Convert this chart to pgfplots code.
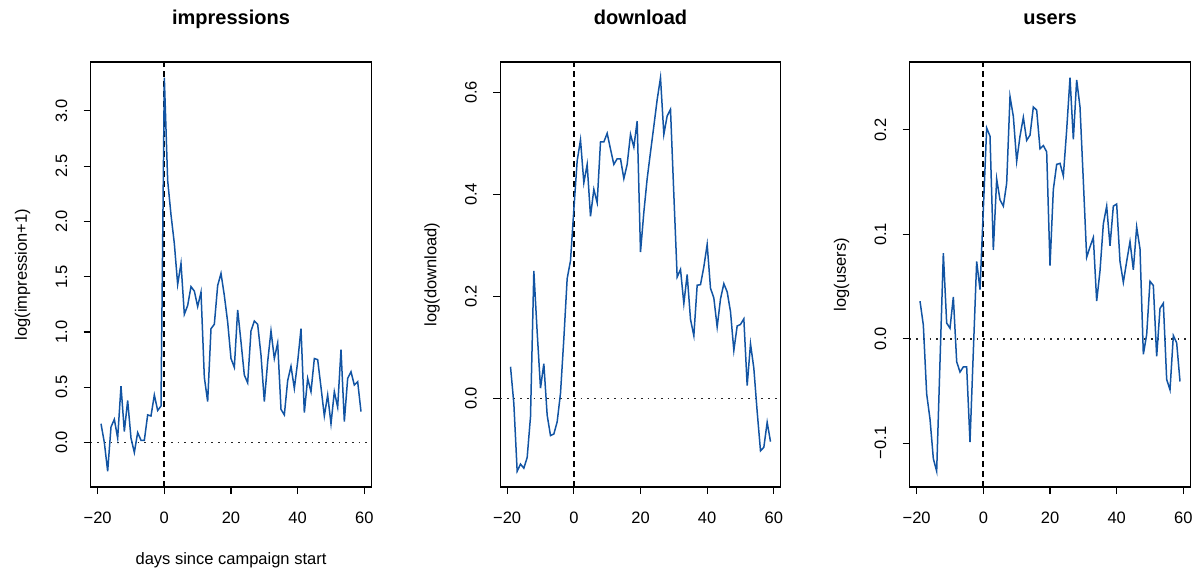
\documentclass[border=0pt]{standalone}
\usepackage{fontspec}
\setmainfont{Liberation Sans}
\usepackage{pgfplots}
\pgfplotsset{compat=1.18}
\definecolor{lineblue}{RGB}{18,84,163}
\newcommand{\tickfont}{\fontsize{16.5bp}{19bp}\selectfont}
\pgfplotsset{
  panel/.style={
    scale only axis, width=280.8bp, height=425bp, anchor=south west,
    xmin=-22.12, xmax=62.12,
    clip=true,
    axis line style={line width=1.1bp},
    tick align=outside, xtick pos=bottom, ytick pos=left,
    major tick length=7bp,
    tick style={black, line width=1.1bp},
    xtick={-20,0,20,40,60}, xticklabels={−20,0,20,40,60},
    ticklabel style={font=\tickfont, inner sep=0pt},
    xticklabel style={anchor=north},
    xticklabel shift=17.5bp,
    yticklabel style={rotate=90, anchor=south},
    yticklabel shift=16bp,
    title style={font=\fontsize{20bp}{24bp}\selectfont\bfseries, at={(axis description cs:0.5,1.0753)}, anchor=base},
    label style={font=\tickfont},
    ylabel style={at={(axis description cs:-0.2420,0.5)}, anchor=center},
    xlabel style={at={(axis description cs:0.5,-0.1718)}, anchor=center},
  },
  dataline/.style={lineblue, line width=1.5bp, mark=none},
  zeroline/.style={black!85, line width=1.7bp, dash pattern=on 1.7bp off 5bp, mark=none},
  startline/.style={black, line width=1.8bp, dash pattern=on 6bp off 4bp, mark=none},
}
\pgfplotstableread{
d v
-19 0.17
-18 0.00
-17 -0.26
-16 0.14
-15 0.21
-14 0.04
-13 0.51
-12 0.10
-11 0.38
-10 0.04
-9 -0.09
-8 0.09
-7 0.02
-6 0.02
-5 0.25
-4 0.24
-3 0.43
-2 0.29
-1 0.33
0 3.30
1 2.37
2 2.06
3 1.80
4 1.43
5 1.62
6 1.16
7 1.24
8 1.41
9 1.37
10 1.23
11 1.36
12 0.59
13 0.37
14 1.03
15 1.07
16 1.42
17 1.53
18 1.33
19 1.09
20 0.76
21 0.68
22 1.20
23 0.91
24 0.61
25 0.54
26 1.01
27 1.10
28 1.07
29 0.79
30 0.37
31 0.73
32 1.01
33 0.76
34 0.90
35 0.30
36 0.25
37 0.56
38 0.69
39 0.49
40 0.73
41 1.03
42 0.27
43 0.58
44 0.46
45 0.76
46 0.75
47 0.50
48 0.24
49 0.43
50 0.17
51 0.46
52 0.32
53 0.84
54 0.19
55 0.58
56 0.64
57 0.52
58 0.55
59 0.28
}\impr
\pgfplotstableread{
d v
-19 0.062
-18 -0.010
-17 -0.143
-16 -0.129
-15 -0.137
-14 -0.116
-13 -0.036
-12 0.250
-11 0.130
-10 0.020
-9 0.068
-8 -0.033
-7 -0.073
-6 -0.070
-5 -0.046
-4 0.010
-3 0.117
-2 0.235
-1 0.270
0 0.370
1 0.466
2 0.507
3 0.423
4 0.459
5 0.357
6 0.410
7 0.384
8 0.503
9 0.503
10 0.520
11 0.489
12 0.459
13 0.470
14 0.470
15 0.431
16 0.459
17 0.518
18 0.493
19 0.544
20 0.287
21 0.365
22 0.431
23 0.483
24 0.534
25 0.586
26 0.629
27 0.518
28 0.554
29 0.567
30 0.400
31 0.238
32 0.253
33 0.186
34 0.243
35 0.155
36 0.123
37 0.222
38 0.223
39 0.258
40 0.302
41 0.216
42 0.197
43 0.140
44 0.195
45 0.225
46 0.209
47 0.170
48 0.094
49 0.142
50 0.145
51 0.156
52 0.025
53 0.107
54 0.059
55 -0.026
56 -0.103
57 -0.096
58 -0.047
59 -0.085
}\down
\pgfplotstableread{
d v
-19 0.036
-18 0.013
-17 -0.053
-16 -0.077
-15 -0.115
-14 -0.127
-13 -0.022
-12 0.082
-11 0.015
-10 0.010
-9 0.040
-8 -0.022
-7 -0.032
-6 -0.027
-5 -0.027
-4 -0.099
-3 -0.012
-2 0.074
-1 0.047
0 0.124
1 0.202
2 0.194
3 0.085
4 0.153
5 0.133
6 0.127
7 0.149
8 0.232
9 0.213
10 0.170
11 0.194
12 0.212
13 0.190
14 0.195
15 0.222
16 0.219
17 0.182
18 0.185
19 0.179
20 0.070
21 0.143
22 0.167
23 0.168
24 0.156
25 0.200
26 0.250
27 0.191
28 0.248
29 0.222
30 0.151
31 0.078
32 0.088
33 0.097
34 0.036
35 0.065
36 0.110
37 0.127
38 0.089
39 0.127
40 0.129
41 0.074
42 0.054
43 0.074
44 0.093
45 0.066
46 0.107
47 0.086
48 -0.015
49 0.004
50 0.055
51 0.051
52 -0.017
53 0.029
54 0.034
55 -0.039
56 -0.049
57 0.003
58 -0.004
59 -0.041
}\users
\begin{document}
\begin{tikzpicture}
\path[use as bounding box] (0,0) rectangle (1198bp,574bp);
% panel 1
\begin{axis}[panel, at={(90.6bp,87bp)},
  ymin=-0.4024, ymax=3.4424,
  ytick={0,0.5,1,1.5,2,2.5,3}, yticklabels={0.0,0.5,1.0,1.5,2.0,2.5,3.0},
  title={impressions}, ylabel={log(impression+1)}, xlabel={days since campaign start}]
\addplot[zeroline] coordinates {(-22.12,0) (62.12,0)};
\addplot[startline] coordinates {(0,-0.4024) (0,3.4424)};
\addplot[dataline] table[x=d,y=v] {\impr};
\end{axis}
% panel 2
\begin{axis}[panel, at={(500.1bp,87bp)},
  ymin=-0.1739, ymax=0.6599,
  ytick={0,0.2,0.4,0.6}, yticklabels={0.0,0.2,0.4,0.6},
  title={download}, ylabel={log(download)}]
\addplot[zeroline] coordinates {(-22.12,0) (62.12,0)};
\addplot[startline] coordinates {(0,-0.1739) (0,0.6599)};
\addplot[dataline] table[x=d,y=v] {\down};
\end{axis}
% panel 3
\begin{axis}[panel, at={(909.6bp,87bp)},
  ymin=-0.1421, ymax=0.2651,
  ytick={-0.1,0,0.1,0.2}, yticklabels={−0.1,0.0,0.1,0.2},
  title={users}, ylabel={log(users)}]
\addplot[zeroline] coordinates {(-22.12,0) (62.12,0)};
\addplot[startline] coordinates {(0,-0.1421) (0,0.2651)};
\addplot[dataline] table[x=d,y=v] {\users};
\end{axis}
\end{tikzpicture}
\end{document}
